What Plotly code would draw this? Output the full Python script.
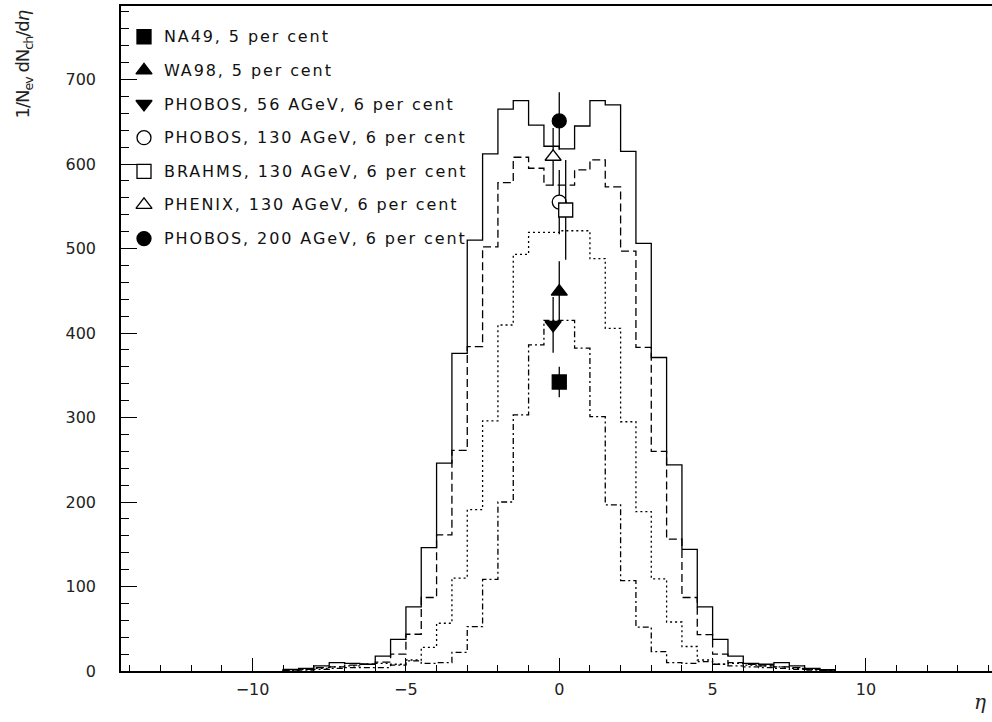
import numpy as np
import plotly.graph_objects as go

# ---------------- data ----------------
bin_lo = -9.0
bin_w = 0.5
# histograms (36 bins from -9 to 9)
h_solid = [2, 3, 6, 10, 9, 8, 17.7, 37.5, 76, 146, 246, 376, 510, 612, 665, 675, 646, 621,
           618, 645, 675, 670, 615, 506, 371, 244, 144, 76, 37.5, 17.7, 9, 8, 10, 6, 3, 1.5]
h_dashed = [1, 2, 4, 5, 7, 8, 10.5, 20, 43.5, 87, 161, 261, 384, 502, 578, 608, 595, 575,
            575, 593, 605, 573, 497, 383, 260, 156, 87, 43, 20, 10, 8, 6, 5, 4, 2, 1]
h_dotted = [1, 2, 3, 5, 6, 8, 9, 8, 13, 28, 56.5, 110, 191, 296, 409.5, 493, 519, 519,
            521, 521, 488, 405.5, 295, 188.5, 109, 58, 29, 13, 8, 9, 7, 6, 5, 3, 2, 1]
h_dashdot = [0.5, 1, 2, 3, 4, 4, 4, 7, 12, 9, 10, 22, 52.5, 108.5, 200, 303, 386, 415,
             415, 382, 301, 196.5, 107, 52, 23, 10, 9, 11, 8, 6, 5, 4, 3, 2, 1, 0.5]

# experimental points
exp_names = ["NA49, 5 per cent", "WA98, 5 per cent", "PHOBOS, 56 AGeV, 6 per cent",
             "PHOBOS, 130 AGeV, 6 per cent", "BRAHMS, 130 AGeV, 6 per cent",
             "PHENIX, 130 AGeV, 6 per cent", "PHOBOS, 200 AGeV, 6 per cent"]
exp_eta = [0.0, 0.0, -0.2, 0.0, 0.21, -0.2, 0.0]
exp_val = [342, 449, 409.5, 555, 545.6, 608.6, 651]
exp_err = [18, 36, 33, 38, 59, 34, 34]
exp_symbol = ["square", "triangle-up", "triangle-down", "circle", "square", "triangle-up", "circle"]
exp_filled = [True, True, True, False, False, False, True]

x_ticks = [-10, -5, 0, 5, 10]
y_ticks = [0, 100, 200, 300, 400, 500, 600, 700]

FONT = "DejaVu Sans"

fig = go.Figure()

edges = bin_lo + bin_w * np.arange(len(h_solid) + 1)
styles = [(h_solid, "solid"), (h_dashed, "8px,4px"), (h_dotted, "2px,3px"),
          (h_dashdot, "6px,3px,2px,3px")]
for vals, dash in styles:
    xs = [edges[0]] + list(edges)
    ys = [0] + list(vals) + [0]
    fig.add_trace(go.Scatter(x=xs, y=ys, mode="lines", line_shape="hv",
                             line=dict(color="black", width=1.3, dash=dash),
                             hoverinfo="skip", showlegend=False))

for name, x, v, e, sym, filled in zip(exp_names, exp_eta, exp_val, exp_err, exp_symbol, exp_filled):
    fig.add_trace(go.Scatter(
        x=[x], y=[v], mode="markers", name=name, showlegend=False,
        error_y=dict(type="data", array=[e], width=0, thickness=1.3, color="black"),
        marker=dict(symbol=sym, size=14, color="black" if filled else "white",
                    line=dict(color="black", width=1.3))))

# legend drawn inside the frame
leg_x = -13.54
leg_tx = -12.95
leg_y0 = 750.6
leg_dy = 39.8
for i, (name, sym, filled) in enumerate(zip(exp_names, exp_symbol, exp_filled)):
    yy = leg_y0 - i * leg_dy
    fig.add_trace(go.Scatter(
        x=[leg_x], y=[yy], mode="markers", showlegend=False, hoverinfo="skip",
        marker=dict(symbol=sym, size=14, color="black" if filled else "white",
                    line=dict(color="black", width=1.3))))
    fig.add_annotation(x=leg_tx, y=yy, xref="x", yref="y", text=name, showarrow=False,
                       xanchor="left", yanchor="middle", align="left",
                       font=dict(family=FONT, size=16, color="#111"))

# axis titles
fig.add_annotation(xref="paper", yref="paper", x=-0.112, y=0.912,
                   text="1/N<sub>ev</sub> dN<sub>ch</sub>/d<i>η</i>", textangle=-90,
                   showarrow=False, xanchor="center", yanchor="middle",
                   font=dict(family=FONT, size=18, color="#222"))
fig.add_annotation(xref="paper", yref="paper", x=(972 - 121) / 871, y=-(702 - 671) / 665,
                   text="<i>η</i>", showarrow=False, xanchor="left", yanchor="middle",
                   font=dict(family="DejaVu Serif", size=20, color="#222"))

fig.update_layout(
    width=992, height=722,
    margin=dict(l=121, r=0, t=6, b=51),
    plot_bgcolor="white", paper_bgcolor="white",
    showlegend=False,
    xaxis=dict(range=[-14.29, 14.11], showgrid=False, zeroline=False,
               showline=True, linecolor="black", linewidth=1.5, mirror=True,
               ticks="inside", tickvals=x_ticks, ticklen=13, tickwidth=1.3, tickcolor="black",
               minor=dict(dtick=1, ticks="inside", ticklen=6, tickwidth=1.3, tickcolor="black"),
               tickfont=dict(family=FONT, size=16, color="#222"), ticklabelstandoff=3),
    yaxis=dict(range=[0, 787], showgrid=False, zeroline=False,
               showline=True, linecolor="black", linewidth=1.5,
               ticks="inside", tickvals=y_ticks, ticklen=16, tickwidth=1.3, tickcolor="black",
               minor=dict(dtick=20, ticks="inside", ticklen=8, tickwidth=1.3, tickcolor="black"),
               tickfont=dict(family=FONT, size=16, color="#222"), ticklabelstandoff=20),
)

post = ("document.querySelectorAll('.annotation-text').forEach(function(t){"
        "if(t.textContent.indexOf('per cent')>=0){t.style.letterSpacing='1.9px';}"
        "else if(t.textContent.indexOf('dN')>=0){t.style.letterSpacing='-1.0px';}});")
fig.write_html("out.html", post_script=post)
